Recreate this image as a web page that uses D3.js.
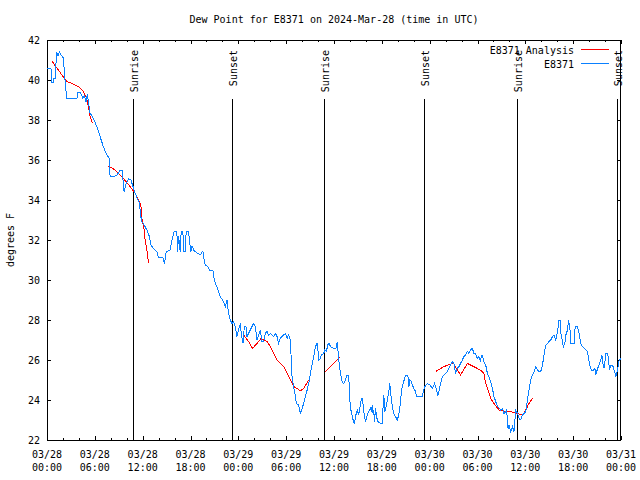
<!DOCTYPE html>
<html>
<head>
<meta charset="utf-8">
<script src="https://cdn.jsdelivr.net/npm/d3@7"></script>
<style>
  html, body { margin: 0; padding: 0; background: #fff; }
  svg { display: block; }
  text { font-family: "DejaVu Sans Mono", "Liberation Mono", monospace; font-size: 10px; fill: #000; }
</style>
</head>
<body>
<svg id="chart" width="640" height="480"></svg>
<script>
// ---- data (hours since 2024-03-28 00:00 UTC) ----
const title = "Dew Point for E8371 on 2024-Mar-28 (time in UTC)";
const yLabel = "degrees F";
const seriesNames = ["E8371 Analysis", "E8371"];
const yTicks = [22, 24, 26, 28, 30, 32, 34, 36, 38, 40, 42];

const obsHours = [0,0.16,0.50,0.59,0.75,0.88,1.01,1.22,1.38,1.57,1.76,2.05,2.26,2.47,3.14,3.77,3.89,4.23,4.48,4.71,4.90,5.06,5.19,5.40,5.82,6.22,6.66,7.04,7.50,7.83,7.91,8.54,8.79,9.17,9.42,9.67,9.92,10.21,10.52,10.77,11.06,11.60,11.77,11.90,12.19,12.53,12.85,13.03,13.35,13.78,13.98,14.54,14.74,14.95,15.45,15.67,15.95,16.29,16.37,16.50,16.71,16.83,17.05,17.12,17.34,17.46,17.75,17.96,18.05,18.18,18.47,19.22,19.56,19.64,19.85,20.14,20.39,20.82,20.98,21.36,21.73,22.15,22.36,22.58,22.65,22.90,23.20,23.40,23.62,23.83,24.03,24.25,24.37,24.59,24.75,24.96,25.09,25.29,25.50,25.92,26.13,26.34,26.55,26.76,26.97,27.17,27.39,27.60,27.80,28.02,28.43,28.64,28.86,29.06,29.27,29.48,29.69,29.90,30.11,30.31,30.53,30.62,30.74,30.94,31.16,31.28,31.57,31.78,32.00,32.20,32.41,32.63,32.83,33.04,33.25,33.45,33.67,33.88,34.01,34.08,34.30,34.42,34.71,34.84,35.05,35.21,35.39,35.55,35.97,36.31,36.39,36.47,36.60,36.81,37.02,37.22,37.44,37.65,37.85,37.98,38.15,38.40,38.57,38.69,38.91,39.11,39.23,39.41,39.53,39.66,39.74,39.95,40.16,40.36,40.58,40.70,40.79,40.92,40.99,41.08,41.21,41.33,41.50,41.83,42.05,42.17,42.25,42.37,42.59,42.75,42.88,43.00,43.18,43.30,43.43,43.59,43.72,43.93,44.13,44.35,44.47,44.69,44.85,44.97,45.26,45.39,45.52,45.69,45.82,46.02,46.23,46.36,46.65,47.07,47.27,47.40,47.70,48.03,48.33,48.62,48.87,49.03,49.21,49.37,49.59,49.79,50.00,50.21,50.41,50.63,50.84,51.04,51.26,51.47,51.67,51.88,52.10,52.30,52.51,52.73,52.93,53.14,53.35,53.56,53.77,53.98,54.18,54.40,54.48,54.61,54.81,55.03,55.24,55.44,55.65,55.87,56.07,56.50,56.91,57.12,57.32,57.54,57.66,57.83,57.95,58.17,58.38,58.58,58.79,59.01,59.21,59.42,59.63,59.84,60.05,60.26,60.46,60.68,60.89,61.09,61.31,61.52,61.72,61.93,62.15,62.35,62.56,62.78,62.98,63.19,63.40,63.61,63.82,64.03,64.23,64.36,64.45,64.57,64.66,64.79,64.95,65.08,65.29,65.41,65.58,65.70,66.12,66.21,66.33,66.55,66.75,66.96,67.17,67.37,67.59,67.80,68.00,68.13,68.30,68.56,68.72,68.84,69.06,69.26,69.47,69.60,69.76,69.89,70.10,70.31,70.44,70.56,70.73,70.94,71.14,71.36,71.57,71.77,71.98,72.0];
const obsValues = [40.58,40.58,40.58,39.87,39.85,40.08,40.08,41.42,41.2,41.4,41.25,41.1,40.0,39.08,39.1,39.1,39.4,39.35,39.1,39.2,38.9,39.3,38.9,38.35,38.08,37.7,37.17,36.7,36.25,36.08,35.2,35.2,35.25,35.5,35.5,34.42,34.8,35.05,35.0,34.7,34.33,33.83,33.17,32.92,32.75,32.5,32.17,31.75,31.58,31.42,31.13,31.1,30.8,31.42,31.5,32.0,32.42,32.42,31.42,32.2,31.42,32.42,32.4,31.42,31.42,32.42,32.42,31.67,31.42,31.7,31.45,31.25,31.45,31.17,30.75,30.67,30.5,30.45,30.0,29.6,29.17,28.92,28.67,28.98,28.67,28.08,27.83,27.9,27.67,27.17,27.5,27.83,27.33,26.83,27.67,27.67,27.17,27.33,27.5,27.83,27.67,27.0,27.25,27.5,26.92,26.92,27.33,27.42,27.25,27.33,27.17,27.33,27.17,26.83,27.08,27.17,27.25,27.33,27.08,27.25,27.0,26.17,25.17,24.67,24.17,23.83,23.75,23.33,23.58,23.83,24.17,24.5,24.83,25.33,25.75,26.17,26.67,26.83,26.42,26.0,26.08,26.25,26.33,26.5,26.42,26.75,26.83,26.67,26.58,26.6,26.92,26.58,26.0,25.33,24.9,24.83,25.0,25.25,25.2,24.0,23.42,23.0,22.8,23.17,23.5,23.25,23.58,24.0,24.08,23.75,23.42,22.92,23.25,23.42,23.58,23.42,23.75,23.25,23.5,22.92,23.58,23.17,22.92,22.83,22.83,23.75,24.25,23.42,23.75,24.17,24.42,24.83,24.08,23.75,23.42,23.25,23.17,23.0,23.25,23.92,24.5,24.83,25.08,25.25,25.25,24.67,25.0,24.92,24.75,24.58,24.42,24.17,24.2,24.2,24.5,24.67,24.83,24.75,24.58,24.83,24.5,24.25,24.5,24.83,25.17,25.25,25.33,25.42,25.58,25.75,25.92,25.83,25.33,25.58,25.67,25.83,26.0,26.17,26.25,26.42,26.33,26.5,26.58,26.33,26.3,26.08,26.17,25.92,26.25,26.25,25.92,25.75,25.33,25.17,24.92,24.58,24.17,23.67,23.5,23.58,23.33,23.42,23.5,22.58,22.75,22.42,22.67,22.42,23.5,23.33,23.08,23.0,23.25,23.33,23.42,24.0,24.5,25.0,25.25,25.42,25.67,25.5,25.42,25.42,25.75,26.25,26.75,26.83,26.92,27.0,27.17,27.25,27.0,27.42,28.0,28.0,27.33,27.17,26.83,26.67,26.83,27.25,27.5,28.0,27.67,26.83,26.83,27.5,27.67,27.67,27.33,26.83,26.67,26.58,26.5,26.42,25.92,25.67,25.5,25.5,25.58,25.25,25.58,25.75,26.0,26.25,25.75,25.58,26.33,26.33,26.0,25.5,25.75,25.75,25.5,25.17,25.5,26.0,26.08,26.0];

// analysis: null marks a break between segments
const anaHours = [0.67,1.42,2.47,3.10,3.93,4.56,4.99,5.19,5.40,5.69, 6.5, 7.70,8.54,9.38,10.43,11.06,11.47,11.77,11.90,12.19,12.31,12.53,12.73, 18, 24.66,25.29,25.79,26.34,26.85,27.60,28.02,28.43,28.86,29.69,30.11,30.53,30.94,31.37,31.78,32.20,32.83, 34, 34.92,35.55,36.18,36.60,36.72, 42, 48.74,49.79,50.84,51.00,51.38,51.88,52.73,53.98,54.61,54.81,55.03,55.24,55.65,56.07,56.70,57.32,58.17,59.01,59.42,59.84,60.05,60.46,60.89];
const anaValues = [40.92,40.5,39.92,39.83,39.67,39.42,39.08,38.67,38.17,37.85, null, 35.7,35.5,35.17,34.67,34.33,34.0,33.75,33.1,32.5,32.0,31.5,30.85, null, 27.25,26.92,26.58,26.83,27.08,26.92,26.67,26.33,26.0,25.67,25.33,25.0,24.67,24.58,24.45,24.58,25.0, null, 25.42,25.67,25.92,26.08,26.15, null, 25.42,25.67,25.83,25.85,25.55,25.25,25.83,25.58,25.42,25.3,24.83,24.6,24.08,23.83,23.5,23.45,23.42,23.33,23.25,23.33,23.5,23.83,24.08];

const sunriseHours = [10.8, 34.8, 58.9];
const sunsetHours = [23.25, 47.35, 71.45];

// ---- layout ----
const start = Date.UTC(2024, 2, 28, 0, 0);
const toDate = h => new Date(start + h * 3600e3);
const L = 47, R = 621, T = 40, B = 440;
const svg = d3.select("#chart");

const x = d3.scaleUtc().domain([toDate(0), toDate(72)]).range([L, R]);
const y = d3.scaleLinear().domain([22, 42]).range([B, T]);

const axisG = svg.append("g").attr("shape-rendering", "crispEdges");

// Y ticks (left + right)
yTicks.forEach(v => {
  const py = Math.round(y(v)) + 0.5;
  axisG.append("line").attr("x1", L).attr("x2", L + 4).attr("y1", py).attr("y2", py).attr("stroke", "#000");
  axisG.append("line").attr("x1", R - 4).attr("x2", R).attr("y1", py).attr("y2", py).attr("stroke", "#000");
  svg.append("text").attr("x", 40).attr("y", py + 3.5).attr("text-anchor", "end").text(v);
});

// X ticks: minor every 2h, major every 6h
const minorTicks = d3.utcHour.every(2).range(toDate(0), toDate(72.01));
minorTicks.forEach(d => {
  const px = Math.round(x(d)) + 0.5;
  const major = d.getUTCHours() % 6 === 0;
  const len = major ? 4 : 2;
  axisG.append("line").attr("x1", px).attr("x2", px).attr("y1", B).attr("y2", B - len).attr("stroke", "#000");
  axisG.append("line").attr("x1", px).attr("x2", px).attr("y1", T).attr("y2", T + len).attr("stroke", "#000");
});
const fmtD = d3.utcFormat("%m/%d"), fmtT = d3.utcFormat("%H:%M");
x.ticks(d3.utcHour.every(6)).forEach(d => {
  const t = svg.append("text").attr("text-anchor", "middle");
  t.append("tspan").attr("x", x(d)).attr("y", 458).text(fmtD(d));
  t.append("tspan").attr("x", x(d)).attr("y", 471).text(fmtT(d));
});

// sunrise / sunset markers
function marker(h, label) {
  const px = Math.round(x(toDate(h))) + 0.5;
  axisG.append("line").attr("x1", px).attr("x2", px).attr("y1", 99).attr("y2", B).attr("stroke", "#000");
  svg.append("text").attr("transform", `translate(${px + 4},50) rotate(-90)`)
    .attr("text-anchor", "end").text(label);
}
sunriseHours.forEach(h => marker(h, "Sunrise"));
sunsetHours.forEach(h => marker(h, "Sunset"));

// border
axisG.append("rect").attr("x", L + 0.5).attr("y", T + 0.5).attr("width", R - L - 1).attr("height", B - T)
  .attr("fill", "none").attr("stroke", "#000");

// series
const obs = obsHours.map((h, i) => ({ t: toDate(h), v: obsValues[i] }));
const ana = anaHours.map((h, i) => ({ t: toDate(h), v: anaValues[i] }));
const line = d3.line().defined(d => d.v !== null).x(d => x(d.t)).y(d => y(d.v));

svg.append("path").datum(ana).attr("d", line).attr("fill", "none").attr("stroke", "#ff0000")
  .attr("stroke-width", 1).attr("shape-rendering", "crispEdges");
svg.append("path").datum(obs).attr("d", line).attr("fill", "none").attr("stroke", "#0a80ff")
  .attr("stroke-width", 1).attr("shape-rendering", "crispEdges");

// title and y label
svg.append("text").attr("x", 334).attr("y", 23).attr("text-anchor", "middle").text(title);
svg.append("text").attr("transform", "translate(14,240) rotate(-90)").attr("text-anchor", "middle").text(yLabel);

// legend
const legendColors = ["#ff0000", "#0a80ff"];
seriesNames.forEach((name, i) => {
  const ly = 50 + i * 14;
  svg.append("text").attr("x", 574).attr("y", ly + 4).attr("text-anchor", "end").text(name);
  svg.append("line").attr("x1", 581).attr("x2", 609).attr("y1", ly - 0.5).attr("y2", ly - 0.5)
    .attr("stroke", legendColors[i]).attr("shape-rendering", "crispEdges");
});
</script>
</body>
</html>
